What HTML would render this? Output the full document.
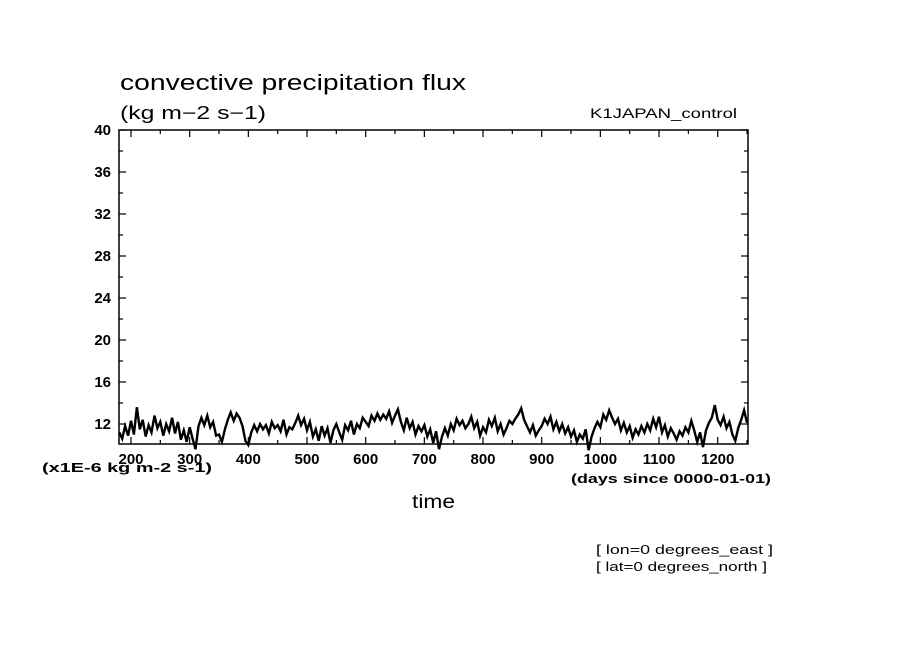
<!DOCTYPE html>
<html><head><meta charset="utf-8"><style>
body{margin:0;background:#fff;}
svg{display:block;font-family:"Liberation Sans",sans-serif;}
</style></head><body>
<svg id="chart" width="904" height="654">
<text x="120" y="90" font-size="22" textLength="346" lengthAdjust="spacingAndGlyphs">convective precipitation flux</text>
<text x="120" y="119" font-size="18" textLength="146" lengthAdjust="spacingAndGlyphs">(kg m−2 s−1)</text>
<text x="590" y="118" font-size="14" textLength="147" lengthAdjust="spacingAndGlyphs">K1JAPAN_control</text>
<text x="412" y="508" font-size="19" textLength="43" lengthAdjust="spacingAndGlyphs">time</text>
<text x="42" y="472" font-size="13" font-weight="bold" textLength="170" lengthAdjust="spacingAndGlyphs">(x1E-6 kg m-2 s-1)</text>
<text x="571" y="483" font-size="13" font-weight="bold" textLength="200" lengthAdjust="spacingAndGlyphs">(days since 0000-01-01)</text>
<text x="596" y="554" font-size="13" textLength="177" lengthAdjust="spacingAndGlyphs">[ lon=0 degrees_east ]</text>
<text x="596" y="571" font-size="13" textLength="171" lengthAdjust="spacingAndGlyphs">[ lat=0 degrees_north ]</text>
<g id="axes"></g>
<g id="series"></g>
</svg>
<script>
const yTicks=[12,16,20,24,28,32,36,40];
const xTicks=[200,300,400,500,600,700,800,900,1000,1100,1200];
const startDay=180, stepDays=5;
const values=[
11.2,10.6,11.8,10.9,12.3,11.0,13.6,11.5,12.4,10.8,11.9,11.2,12.8,11.6,12.2,
10.9,12.0,11.3,12.6,11.1,12.2,10.5,11.4,10.3,11.7,10.6,9.6,11.8,12.6,11.9,
12.8,11.7,12.2,10.9,11.0,10.3,11.5,12.4,13.1,12.3,13.0,12.6,11.8,10.4,10.0,
11.2,11.9,11.3,12.0,11.5,11.9,11.1,12.2,11.6,11.9,11.3,12.4,11.0,11.7,11.5,
12.1,12.8,11.9,12.5,11.4,12.2,10.8,11.5,10.4,11.8,10.9,11.6,10.2,11.4,12.0,
11.2,10.5,11.9,11.4,12.3,11.0,12.0,11.6,12.6,12.2,11.8,12.8,12.3,13.0,12.4,
12.9,12.5,13.2,12.1,12.8,13.4,12.2,11.4,12.6,11.6,12.2,11.0,11.8,11.3,11.9,
10.8,11.5,10.2,11.3,9.6,10.8,11.6,10.9,12.0,11.4,12.5,11.9,12.3,11.6,12.0,
12.7,11.6,12.2,10.9,11.7,11.2,12.4,11.8,12.6,11.3,12.0,11.0,11.6,12.3,12.0,
12.5,12.9,13.5,12.4,11.8,11.2,11.9,10.9,11.4,11.8,12.5,12.0,12.7,11.5,12.2,
11.3,12.0,11.1,11.7,10.8,11.4,10.3,11.0,10.6,11.5,9.5,10.8,11.6,12.2,11.7,
12.9,12.4,13.3,12.6,12.0,12.5,11.4,12.1,11.2,11.8,10.7,11.5,11.0,11.8,11.2,
12.0,11.4,12.5,11.7,12.7,11.2,11.9,10.8,11.6,11.1,10.5,11.3,10.9,11.7,11.2,
12.3,11.4,10.3,11.2,9.8,11.4,12.1,12.6,13.8,12.4,11.9,12.7,11.6,12.2,11.0,
10.4,11.6,12.4,13.3,12.1];
const L=119,R=748,T=130,B=444;
function xs(d){return 131+(d-200)*0.5867;}
function ys(v){return 424-(v-12)*10.5;}
const NS="http://www.w3.org/2000/svg";
const ax=document.getElementById('axes');
function mk(tag,attrs,parent){const e=document.createElementNS(NS,tag);for(const k in attrs)e.setAttribute(k,attrs[k]);parent.appendChild(e);return e;}
const frame=mk('rect',{x:L,y:T,width:R-L,height:B-T,fill:'none',stroke:'#000','stroke-width':1.5},ax);


for(let v=12;v<=40;v+=2){
  const major=(v%4===0);const len=major?7:4;const y=ys(v);
  const t1=mk('line',{x1:L,x2:L+len,y1:y,y2:y,stroke:'#000','stroke-width':1.2},ax);
  
  
  const t2=mk('line',{x1:R,x2:R-len,y1:y,y2:y,stroke:'#000','stroke-width':1.2},ax);
  
  
}
yTicks.forEach(v=>{
  const t=mk('text',{x:111,y:ys(v)+5,'font-size':15,'font-weight':'bold','text-anchor':'end'},ax);t.textContent=v;
  
  
});
for(let d=200;d<=1250;d+=50){
  const major=(d%100===0);const len=major?7:4;const x=xs(d);
  const t1=mk('line',{x1:x,x2:x,y1:B,y2:B-len,stroke:'#000','stroke-width':1.2},ax);
  
  
  const t2=mk('line',{x1:x,x2:x,y1:T,y2:T+len,stroke:'#000','stroke-width':1.2},ax);
  
  
}
xTicks.forEach(d=>{
  const t=mk('text',{x:xs(d),y:464,'font-size':15,'font-weight':'bold','text-anchor':'middle'},ax);t.textContent=d;
  
  
});
const pts=values.map((v,i)=>xs(startDay+i*stepDays).toFixed(1)+','+ys(v).toFixed(1)).join(' ');
const line=mk('polyline',{points:pts,fill:'none',stroke:'#000','stroke-width':2.4,'stroke-linejoin':'miter'},document.getElementById('series'));


</script>
</body></html>
